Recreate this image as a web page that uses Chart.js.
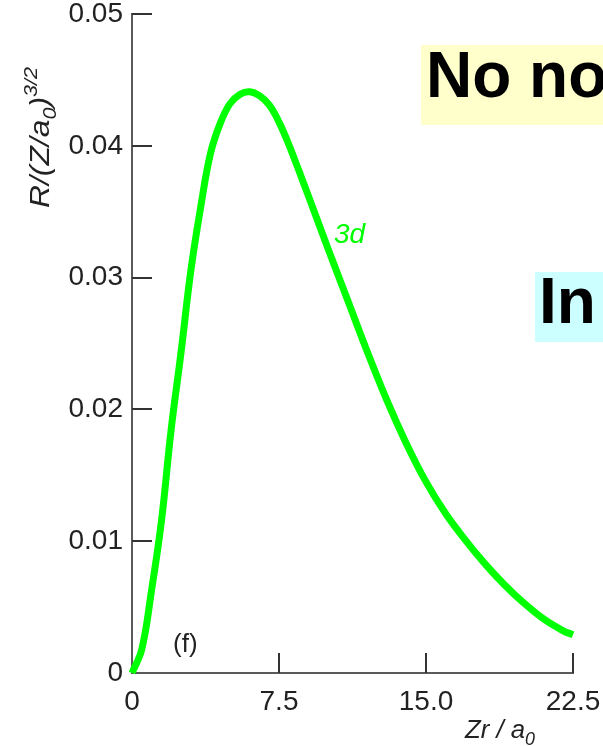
<!DOCTYPE html>
<html>
<head>
<meta charset="utf-8">
<script src="https://cdn.jsdelivr.net/npm/chart.js@4.4.1/dist/chart.umd.min.js"></script>
<style>
  html, body { margin: 0; padding: 0; background: #fff; }
  canvas { display: block; }
</style>
</head>
<body>
<canvas id="radialChart" width="603" height="746"></canvas>
<script>
// Zr/a0 positions and R/(Z/a0)^(3/2)
const xValues = [0, 0.5, 1, 1.5, 2, 2.5, 3, 3.5, 4, 4.5, 5, 5.5, 6, 6.5, 7, 7.5, 8, 9, 10, 11, 12, 13, 14, 15, 16, 17, 18, 19, 20, 21, 22, 22.5];
const rValues = [0, 0.0018, 0.0063, 0.0115, 0.0185, 0.0243, 0.0305, 0.0353, 0.0394, 0.0417, 0.0432, 0.0439, 0.0441, 0.0438, 0.0431, 0.0418, 0.0401, 0.0362, 0.0322, 0.0283, 0.0244, 0.0207, 0.0174, 0.0145, 0.0121, 0.0101, 0.0083, 0.0067, 0.0053, 0.0041, 0.0032, 0.0029];

const xTicks = [0, 7.5, 15, 22.5];
const xTickLabels = ['0', '7.5', '15.0', '22.5'];
const yTicks = [0, 0.01, 0.02, 0.03, 0.04, 0.05];
const yTickLabels = ['0', '0.01', '0.02', '0.03', '0.04', '0.05'];

const FONT = '"Liberation Sans", Arial, Helvetica, sans-serif';
const GREEN = '#00ff00';
const AXIS = '#5a5a5a';

function drawRich(ctx, parts, x, y, angle, targetWidth, color) {
    ctx.save();
    let total = 0;
    parts.forEach(p => {
        ctx.font = 'italic ' + p.size + 'px ' + FONT;
        p.w = ctx.measureText(p.t).width;
        total += p.w;
    });
    ctx.translate(x, y);
    ctx.rotate(angle);
    ctx.scale(targetWidth / total, 1);
    ctx.fillStyle = color;
    ctx.textBaseline = 'alphabetic';
    ctx.textAlign = 'left';
    let cx = 0;
    parts.forEach(p => {
        ctx.font = 'italic ' + p.size + 'px ' + FONT;
        ctx.fillText(p.t, cx, p.dy || 0);
        cx += p.w;
    });
    ctx.restore();
}

const extras = {
    id: 'extras',
    afterDraw(chart) {
        const ctx = chart.ctx;
        const xs = chart.scales.x, ys = chart.scales.y;
        const area = chart.chartArea;

        // inward tick marks
        ctx.save();
        ctx.strokeStyle = '#333';
        ctx.lineWidth = 2;
        ctx.beginPath();
        xTicks.slice(1).forEach(v => {
            const px = Math.round(xs.getPixelForValue(v));
            ctx.moveTo(px, area.bottom);
            ctx.lineTo(px, area.bottom - 20);
        });
        yTicks.slice(1).forEach(v => {
            const py = Math.round(ys.getPixelForValue(v));
            ctx.moveTo(area.left, py);
            ctx.lineTo(area.left + 20, py);
        });
        ctx.stroke();
        ctx.restore();

        // axis titles
        drawRich(ctx, [
            { t: 'R/(Z/a', size: 28 },
            { t: '0', size: 19, dy: 7 },
            { t: ')', size: 28 },
            { t: '3/2', size: 19, dy: -12 }
        ], 49, 208, -Math.PI / 2, 141, '#222');
        drawRich(ctx, [
            { t: 'Zr / a', size: 26 },
            { t: '0', size: 18, dy: 7 }
        ], 465, 738, 0, 70, '#222');

        // curve label and panel label
        ctx.save();
        ctx.fillStyle = GREEN;
        ctx.font = 'italic 28px ' + FONT;
        ctx.textBaseline = 'alphabetic';
        ctx.fillText('3d', 334, 243);
        ctx.fillStyle = '#222';
        ctx.font = '26px ' + FONT;
        ctx.fillText('(f)', 173, 652);

        // overlay boxes
        ctx.fillStyle = '#ffffcc';
        ctx.fillRect(421, 45, 182, 80);
        ctx.fillStyle = '#ccffff';
        ctx.fillRect(535, 272, 68, 70);
        ctx.fillStyle = '#000';
        ctx.font = 'bold 64px ' + FONT;
        ctx.fillText('No no', 426, 97);
        ctx.fillText('In', 539, 323);
        ctx.restore();
    }
};

new Chart(document.getElementById('radialChart'), {
    type: 'scatter',
    data: {
        datasets: [{
            label: '3d',
            data: xValues.map((x, i) => ({ x: x, y: rValues[i] })),
            showLine: true,
            borderColor: GREEN,
            borderWidth: 7,
            pointRadius: 0,
            tension: 0.4,
            clip: false
        }]
    },
    options: {
        responsive: false,
        animation: false,
        layout: { padding: { top: 14, right: 30, left: 0, bottom: 0 } },
        plugins: { legend: { display: false }, tooltip: { enabled: false } },
        scales: {
            x: {
                type: 'linear',
                min: 0,
                max: 22.5,
                afterBuildTicks: s => { s.ticks = xTicks.map(v => ({ value: v })); },
                afterFit: s => {
                    s.height = 73;
                    s.paddingLeft = 0;
                    s.paddingRight = 0;
                },
                grid: { display: true, drawOnChartArea: false, drawTicks: false, color: 'rgba(0,0,0,0)' },
                border: { display: true, color: AXIS, width: 2 },
                ticks: {
                    padding: 12,
                    maxRotation: 0,
                    color: '#222',
                    font: { family: FONT, size: 28 },
                    callback: (v, i) => xTickLabels[i]
                }
            },
            y: {
                type: 'linear',
                min: 0,
                max: 0.05,
                afterBuildTicks: s => { s.ticks = yTicks.map(v => ({ value: v })); },
                afterFit: s => {
                    s.width = 132;
                    s.paddingTop = 0;
                    s.paddingBottom = 0;
                },
                grid: { display: true, drawOnChartArea: false, drawTicks: false, color: 'rgba(0,0,0,0)' },
                border: { display: true, color: AXIS, width: 2 },
                ticks: {
                    padding: 9,
                    color: '#222',
                    font: { family: FONT, size: 28 },
                    callback: (v, i) => yTickLabels[i]
                }
            }
        }
    },
    plugins: [extras]
});
</script>
</body>
</html>
